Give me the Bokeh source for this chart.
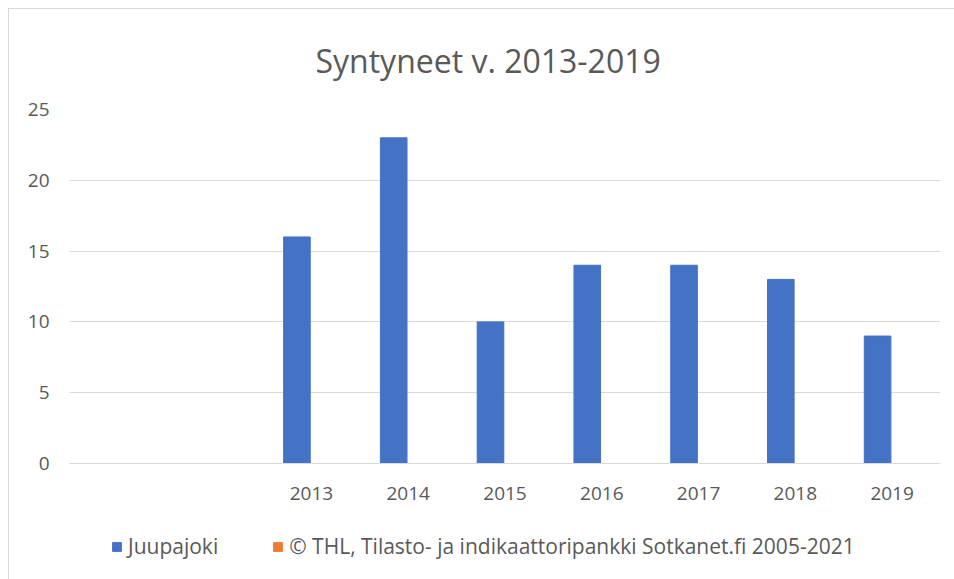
from bokeh.plotting import figure
from bokeh.models import ColumnDataSource, Legend, LegendItem, Title, FactorRange
from bokeh.layouts import column
from bokeh.transform import dodge
from bokeh.embed import file_html
from bokeh.resources import INLINE

# Data
categories = [" ", "  ", "2013", "2014", "2015", "2016", "2017", "2018", "2019"]
juupajoki = [float("nan"), float("nan"), 16, 23, 10, 14, 14, 13, 9]
thl = [float("nan")] * 9
series_names = ["Juupajoki", "© THL, Tilasto- ja indikaattoripankki Sotkanet.fi 2005-2021"]
title_text = "Syntyneet v. 2013-2019"
y_ticks = [0, 5, 10, 15, 20, 25]

FONT = "Open Sans"
GRAY = "#595959"
BLUE = "#4472C4"
ORANGE = "#ED7D31"

src = ColumnDataSource(dict(cat=categories, a=juupajoki, b=thl))

p = figure(width=945, height=510, x_range=FactorRange(*categories), y_range=(0, 25),
           output_backend="svg", toolbar_location=None,
           min_border_left=60, min_border_right=14, min_border_top=100, min_border_bottom=56)

p.vbar(x=dodge("cat", -0.15, range=p.x_range), top="a", width=0.275, source=src,
       fill_color=BLUE, line_color=BLUE)
p.vbar(x=dodge("cat", 0.15, range=p.x_range), top="b", width=0.275, source=src,
       fill_color=ORANGE, line_color=ORANGE)

t = Title(text=title_text, align="left", offset=246, text_font=FONT, text_font_size="32px",
          text_color=GRAY, text_font_style="normal", standoff=55)
p.add_layout(t, "above")

p.outline_line_color = None
p.xgrid.grid_line_color = None
p.ygrid.grid_line_color = "#d9d9d9"
p.ygrid.grid_line_width = 1
p.yaxis.ticker = y_ticks
p.yaxis.axis_line_color = None
p.yaxis.major_tick_line_color = None
p.yaxis.minor_tick_line_color = None
p.yaxis.major_label_standoff = 14
p.yaxis.major_label_text_font = FONT
p.yaxis.major_label_text_font_size = "19px"
p.yaxis.major_label_text_color = GRAY

p.xaxis.axis_line_color = "#d9d9d9"
p.xaxis.major_tick_line_color = None
p.xaxis.minor_tick_line_color = None
p.xaxis.major_label_standoff = 10
p.xaxis.major_label_text_font = FONT
p.xaxis.major_label_text_font_size = "19px"
p.xaxis.major_label_text_color = GRAY

# legend strip below the chart (its renderers use the empty series, so nothing is drawn)
lf = figure(width=945, height=60, x_range=p.x_range, y_range=(0, 1),
            output_backend="svg", toolbar_location=None,
            min_border_left=0, min_border_right=0, min_border_top=0, min_border_bottom=0)
lf.axis.visible = False
lf.grid.visible = False
lf.outline_line_color = None
l1 = lf.vbar(x="cat", top="b", width=0.275, source=src, fill_color=BLUE, line_color=BLUE)
l2 = lf.vbar(x="cat", top="b", width=0.275, source=src, fill_color=ORANGE, line_color=ORANGE)
legend = Legend(items=[LegendItem(label=series_names[0], renderers=[l1]),
                       LegendItem(label=series_names[1], renderers=[l2])],
                orientation="horizontal", location=(42, 19),
                label_text_font=FONT, label_text_font_size="21px", label_text_color=GRAY,
                glyph_width=11, glyph_height=11, label_standoff=6, spacing=54,
                border_line_color=None, background_fill_alpha=0, margin=0, padding=2)
lf.add_layout(legend, "center")

layout = column(p, lf, spacing=0,
                styles={"border-left": "1px solid #d9d9d9", "border-top": "1px solid #d9d9d9",
                        "margin-left": "8px", "margin-top": "8px"})

open("out.html", "w").write(file_html(layout, INLINE))
